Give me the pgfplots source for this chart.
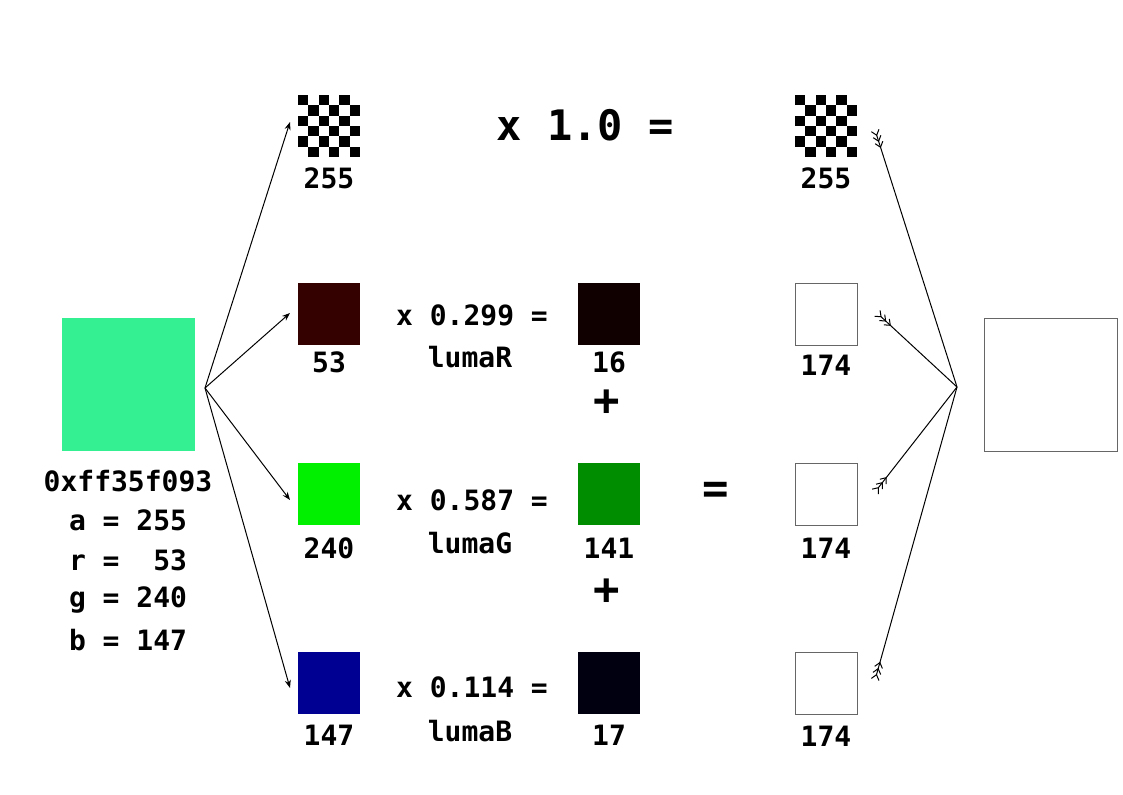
\documentclass[border=0pt]{standalone}
\usepackage{pgfplots}
\pgfplotsset{compat=1.18}
\usepackage{fontspec}
\setmonofont{DejaVu Sans Mono}
\usetikzlibrary{arrows.meta}
\definecolor{cA}{RGB}{53,240,147}
\definecolor{cR}{RGB}{53,0,0}
\definecolor{cG}{RGB}{0,240,0}
\definecolor{cB}{RGB}{0,0,147}
\definecolor{dR}{RGB}{16,0,0}
\definecolor{dG}{RGB}{0,141,0}
\definecolor{dB}{RGB}{0,0,17}
\begin{document}
\begin{tikzpicture}[every node/.style={font=\ttfamily\bfseries\fontsize{14}{16}\selectfont}]
\begin{axis}[scale only axis, width=561.5pt, height=397pt, xmin=0,xmax=1123,ymin=0,ymax=794,
 y dir=reverse, axis lines=none, clip=false]
\addplot[draw=none] coordinates {(0,0) (1123,794)};
\end{axis}
\begin{scope}[shift={(0pt,397pt)},x=0.5pt,y=-0.5pt]
\fill[cA] (62,318) rectangle (195,451);
\fill[cR] (298,283) rectangle (360,345);
\fill[cG] (298,463) rectangle (360,525);
\fill[cB] (298,652) rectangle (360,714);
\fill[dR] (578,283) rectangle (640,345);
\fill[dG] (578,463) rectangle (640,525);
\fill[dB] (578,652) rectangle (640,714);
\foreach \yy in {283,463,652} {\draw[gray!80!black,line width=0.4pt] (795,\yy) rectangle (857,\yy+62);}
\draw[gray!80!black,line width=0.4pt] (984,318) rectangle (1117,451);
\foreach \xo in {298,795} {
 \foreach \i in {0,...,5} { \foreach \j in {0,...,5} {
  \pgfmathparse{int(mod(\i+\j,2))}
  \ifnum\pgfmathresult=0
   \fill[black] ({\xo+\i*10.33},{95+\j*10.33}) rectangle ({\xo+(\i+1)*10.33},{95+(\j+1)*10.33});
  \fi
 }}
}
\node at (128,481) {0xff35f093};
\node at (128,520) {a = 255};
\node at (128,560) {r =~~53};
\node at (128,600) {g = 240};
\node at (128,640) {b = 147};
\node at (329,178) {255};
\node at (329,362) {53};
\node at (329,548) {240};
\node at (329,735) {147};
\node at (609,362) {16};
\node at (609,548) {141};
\node at (609,735) {17};
\node at (826,178) {255};
\node at (826,365) {174};
\node at (826,548) {174};
\node at (826,736) {174};
\node at (472,315) {x 0.299 =};
\node at (472,500) {x 0.587 =};
\node at (472,687) {x 0.114 =};
\node at (470,357) {lumaR};
\node at (470,543) {lumaG};
\node at (470,731) {lumaB};
\node[font=\ttfamily\bfseries\fontsize{22}{24}\selectfont] at (607,403) {+};
\node[font=\ttfamily\bfseries\fontsize{22}{24}\selectfont] at (607,592) {+};
\node[font=\ttfamily\bfseries\fontsize{22}{24}\selectfont] at (716,493) {=};
\node[font=\ttfamily\bfseries\fontsize{21}{24}\selectfont] at (585,125) {x 1.0 =};
\foreach \ty in {122,313,500,688} {
 \draw[-{Stealth[length=4pt,width=3pt]},line width=0.5pt] (205,388) -- (290,\ty);
}
\foreach \tx/\ty in {875/130,877/313,875/492,875/680} {
 \draw[{Straight Barb[reversed,length=2.5pt,width=4pt]Straight Barb[reversed,length=2.5pt,width=4pt]Straight Barb[reversed,length=2.5pt,width=4pt]}-,line width=0.5pt] (\tx,\ty) -- (957,387);
}
\end{scope}
\end{tikzpicture}
\end{document}
